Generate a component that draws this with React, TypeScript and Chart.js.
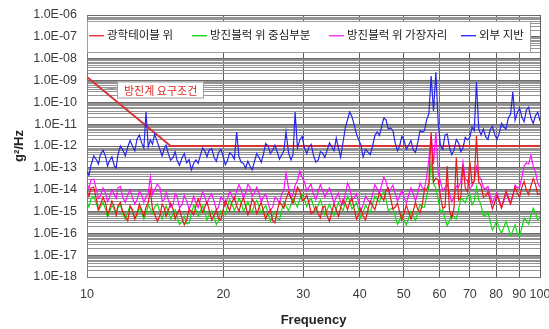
import { useEffect, useRef } from 'react';
import { Chart, registerables } from 'chart.js';

Chart.register(...registerables);

// Frequency (Hz), main log-spaced readings
const frequency = [
  10.0, 10.2, 10.5, 10.7, 11.0, 11.2, 11.5, 11.7, 12.0, 12.3,
  12.6, 12.9, 13.2, 13.5, 13.8, 14.1, 14.5, 14.8, 15.1, 15.5,
  15.8, 16.2, 16.6, 17.0, 17.4, 17.8, 18.2, 18.6, 19.1, 19.5,
  20.0, 20.4, 20.9, 21.4, 21.9, 22.4, 22.9, 23.4, 24.0, 24.5,
  25.1, 25.7, 26.3, 26.9, 27.5, 28.2, 28.8, 29.5, 30.2, 30.9,
  31.6, 32.4, 33.1, 33.9, 34.7, 35.5, 36.3, 37.2, 38.0, 38.9,
  39.8, 40.7, 41.7, 42.7, 43.7, 44.7, 45.7, 46.8, 47.9, 49.0,
  50.1, 51.3, 52.5, 53.7, 55.0, 56.2, 57.5, 58.9, 60.3, 61.7,
  63.1, 64.6, 66.1, 67.6, 69.2, 70.8, 72.4, 74.1, 75.9, 77.6,
  79.4, 81.3, 83.2, 85.1, 87.1, 89.1, 91.2, 93.3, 95.5, 97.7,
  100.0,
];

// Frequency (Hz), in-between readings (noise band extremes)
const frequencyMid = [
  10.1, 10.35, 10.6, 10.85, 11.1, 11.35, 11.6, 11.85, 12.15, 12.45,
  12.75, 13.05, 13.35, 13.65, 13.95, 14.3, 14.65, 14.95, 15.3, 15.65,
  16.0, 16.4, 16.8, 17.2, 17.6, 18.0, 18.4, 18.85, 19.3, 19.75,
  20.2, 20.65, 21.15, 21.65, 22.15, 22.65, 23.15, 23.7, 24.25, 24.8,
  25.4, 26.0, 26.6, 27.2, 27.85, 28.5, 29.15, 29.85, 30.55, 31.25,
  32.0, 32.75, 33.5, 34.3, 35.1, 35.9, 36.75, 37.6, 38.45, 39.35,
  40.25, 41.2, 42.2, 43.2, 44.2, 45.2, 46.25, 47.35, 48.45, 49.55,
  50.7, 51.9, 53.1, 54.35, 55.6, 56.85, 58.2, 59.6, 61.0, 62.4,
  63.85, 65.35, 66.85, 68.4, 70.0, 71.6, 73.25, 75.0, 76.75, 78.5,
  80.35, 82.25, 84.15, 86.1, 88.1, 90.15, 92.25, 94.4, 96.6, 98.85,
];

// 광학테이블 위
const opticalTable = [
  9.6e-15, 1.2e-14, 3.4e-15, 2.0e-15, 2.2e-15, 1.2e-15, 1.5e-15, 1.8e-15, 9.4e-16, 3.7e-16,
  1.2e-15, 8.5e-16, 1.2e-15, 1.6e-15, 9.6e-15, 7.7e-16, 6.9e-16, 1.5e-15, 1.05e-15, 1.2e-15,
  7.7e-16, 5.0e-16, 4.1e-16, 1.05e-15, 1.8e-15, 2.0e-15, 1.6e-15, 1.2e-15, 6.9e-16, 5.0e-16,
  1.3e-15, 2.0e-15, 2.7e-15, 1.8e-15, 2.5e-15, 1.8e-15, 1.3e-15, 2.5e-15, 1.6e-15, 1.05e-15,
  8.5e-16, 3.7e-16, 1.05e-15, 2.0e-15, 3.7e-15, 4.2e-15, 5.1e-15, 8.7e-15, 3.7e-15, 2.5e-15,
  9.4e-16, 7.7e-16, 1.5e-15, 6.2e-16, 9.4e-16, 1.2e-15, 1.5e-15, 2.2e-15, 2.7e-15, 1.3e-15,
  7.7e-16, 6.2e-16, 1.2e-15, 1.8e-15, 3.0e-15, 4.6e-15, 8.7e-15, 4.2e-15, 1.6e-15, 9.4e-16,
  8.5e-16, 9.4e-16, 1.05e-15, 1.3e-15, 2.2e-15, 9.6e-15, 4.4e-12, 3.4e-14, 5.1e-15, 1.6e-15,
  1.2e-15, 1.5e-15, 3.4e-15, 1.3e-13, 7.8e-15, 1.8e-14, 2.9e-12, 1.6e-14, 5.1e-15, 3.4e-15,
  2.5e-15, 2.7e-15, 3.7e-15, 4.6e-15, 5.7e-15, 7.0e-15, 1.3e-14, 9.6e-15, 1.5e-14, 1.8e-14,
  7.0e-15,
];
const opticalTableMid = [
  5.0e-15, 1.3e-14, 1.2e-15, 4.5e-15, 7.0e-16, 3.0e-15, 7.0e-16, 2.6e-15, 6.0e-16, 1.8e-15,
  4.5e-16, 2.2e-15, 6.0e-16, 2.5e-15, 1.3e-15, 3.5e-16, 2.2e-15, 6.0e-16, 2.4e-15, 4.5e-16,
  1.3e-15, 2.4e-16, 1.3e-15, 7.0e-16, 3.8e-15, 9.0e-16, 2.8e-15, 4.0e-16, 1.2e-15, 4.0e-16,
  3.2e-15, 1.1e-15, 4.5e-15, 1.0e-15, 4.2e-15, 7.0e-16, 3.8e-15, 8.0e-16, 2.6e-15, 4.5e-16,
  1.2e-15, 3.0e-16, 2.8e-15, 1.4e-15, 7.5e-15, 2.3e-15, 1.3e-14, 3.2e-15, 5.5e-15, 8.0e-16,
  1.7e-15, 5.0e-16, 1.8e-15, 3.5e-16, 2.2e-15, 6.0e-16, 3.6e-15, 1.2e-15, 4.0e-15, 4.5e-16,
  1.3e-15, 4.0e-16, 3.0e-15, 1.2e-15, 7.0e-15, 3.2e-15, 1.2e-14, 1.3e-15, 2.4e-15, 4.0e-16,
  1.9e-15, 4.5e-16, 2.6e-15, 9.0e-16, 1.1e-14, 2.0e-14, 2.2e-14, 2.8e-14, 1.4e-15, 1.2e-13,
  5.0e-16, 3.0e-13, 4.5e-15, 1.2e-14, 2.0e-13, 2.6e-14, 2.2e-14, 4.5e-15, 8.0e-15, 1.3e-15,
  5.5e-15, 1.4e-15, 8.5e-15, 2.4e-15, 1.3e-14, 4.5e-15, 2.4e-14, 6.0e-15, 3.2e-14, 6.0e-15,
];

// 방진블럭 위 중심부분
const blockCenter = [
  2.7e-15, 3.7e-15, 2.2e-15, 1.6e-15, 1.2e-15, 8.5e-16, 1.2e-15, 1.5e-15, 7.7e-16, 9.4e-16,
  1.05e-15, 6.9e-16, 9.4e-16, 7.7e-16, 1.3e-15, 1.6e-15, 9.4e-16, 8.5e-16, 1.05e-15, 7.7e-16,
  5.6e-16, 3.3e-16, 2.7e-16, 8.5e-16, 1.2e-15, 1.05e-15, 9.4e-16, 6.9e-16, 5.0e-16, 3.7e-16,
  8.5e-16, 1.6e-15, 2.2e-15, 2.0e-15, 2.5e-15, 1.6e-15, 1.5e-15, 2.0e-15, 1.6e-15, 1.3e-15,
  8.5e-16, 6.2e-16, 5.0e-16, 1.2e-15, 1.8e-15, 2.0e-15, 2.5e-15, 3.7e-15, 3.4e-15, 3.0e-15,
  1.8e-15, 2.0e-15, 1.8e-15, 1.2e-15, 1.2e-15, 1.3e-15, 1.6e-15, 2.5e-15, 3.4e-15, 1.8e-15,
  1.2e-15, 9.4e-16, 1.3e-15, 2.2e-15, 3.7e-15, 5.7e-15, 3.7e-15, 1.3e-15, 6.2e-16, 4.1e-16,
  4.1e-16, 5.0e-16, 6.2e-16, 8.5e-16, 1.6e-15, 5.1e-15, 1.8e-13, 1.2e-14, 9.4e-16, 4.5e-16,
  3.7e-16, 5.6e-16, 1.2e-15, 3.4e-15, 5.1e-15, 2.0e-15, 1.3e-14, 2.0e-15, 6.9e-16, 3.7e-16,
  2.2e-16, 1.6e-16, 1.9e-16, 1.75e-16, 1.3e-16, 1.0e-16, 1.9e-16, 3.7e-16, 6.9e-16, 8.5e-16,
  5.6e-16,
];
const blockCenterMid = [
  1.6e-15, 5.0e-15, 1.1e-15, 2.6e-15, 5.5e-16, 1.9e-15, 6.5e-16, 2.0e-15, 4.5e-16, 1.8e-15,
  4.5e-16, 1.5e-15, 4.5e-16, 2.0e-15, 8.0e-16, 2.2e-15, 4.5e-16, 1.8e-15, 4.5e-16, 1.2e-15,
  2.5e-16, 6.0e-16, 2.8e-16, 2.0e-15, 6.0e-16, 1.9e-15, 4.0e-16, 1.1e-15, 2.5e-16, 1.1e-15,
  7.0e-16, 3.5e-15, 1.1e-15, 4.0e-15, 1.0e-15, 2.8e-15, 9.0e-16, 3.2e-15, 8.0e-16, 1.9e-15,
  3.5e-16, 1.0e-15, 4.0e-16, 2.8e-15, 1.1e-15, 4.0e-15, 1.6e-15, 6.0e-15, 1.7e-15, 4.0e-15,
  1.0e-15, 3.4e-15, 7.0e-16, 2.2e-15, 6.5e-16, 2.6e-15, 1.1e-15, 5.0e-15, 1.3e-15, 2.6e-15,
  5.0e-16, 2.0e-15, 9.0e-16, 5.0e-15, 2.6e-15, 8.0e-15, 1.1e-15, 1.4e-15, 2.6e-16, 7.5e-16,
  2.4e-16, 1.0e-15, 3.8e-16, 2.2e-15, 1.6e-15, 1.4e-14, 1.8e-14, 3.5e-15, 1.2e-15, 2.2e-16,
  8.5e-16, 4.5e-16, 4.0e-15, 2.5e-15, 6.0e-15, 3.0e-15, 3.5e-15, 6.0e-16, 9.0e-16, 1.4e-16,
  3.8e-16, 1.0e-16, 3.5e-16, 8.0e-17, 2.4e-16, 7.0e-17, 5.0e-16, 2.6e-16, 1.4e-15, 4.0e-16,
];

// 방진블럭 위 가장자리
const blockEdge = [
  2.0e-14, 2.8e-14, 9.6e-15, 5.1e-15, 6.3e-15, 4.2e-15, 5.7e-15, 1.2e-14, 4.2e-15, 5.7e-15,
  4.2e-15, 3.4e-15, 5.7e-15, 4.6e-15, 3.8e-14, 9.6e-15, 1.2e-14, 3.4e-15, 3.7e-15, 2.2e-15,
  5.1e-15, 2.0e-15, 3.0e-15, 2.2e-15, 2.5e-15, 3.7e-15, 4.6e-15, 4.2e-15, 2.7e-15, 1.5e-15,
  3.4e-15, 3.7e-15, 5.1e-15, 8.7e-15, 9.6e-15, 7.0e-15, 1.3e-14, 7.0e-15, 6.3e-15, 4.6e-15,
  2.5e-15, 1.6e-15, 3.7e-15, 6.3e-15, 5.8e-14, 4.2e-15, 1.6e-14, 7.2e-14, 2.3e-14, 1.3e-14,
  6.3e-15, 8.7e-15, 9.6e-15, 7.8e-15, 5.7e-15, 4.6e-15, 2.7e-15, 7.0e-15, 1.2e-14, 4.2e-15,
  2.5e-15, 2.0e-15, 3.4e-15, 6.3e-15, 1.1e-14, 1.6e-14, 2.5e-14, 1.1e-14, 7.0e-15, 5.1e-15,
  4.6e-15, 5.7e-15, 6.3e-15, 7.0e-15, 1.2e-14, 3.8e-14, 3.2e-12, 4.4e-12, 2.3e-14, 1.2e-14,
  7.0e-15, 4.6e-15, 1.3e-14, 1.8e-13, 2.5e-14, 1.5e-14, 1.1e-13, 3.1e-14, 1.1e-14, 5.7e-15,
  4.2e-15, 3.4e-15, 3.0e-15, 3.7e-15, 5.1e-15, 1.2e-14, 3.8e-14, 1.7e-13, 3.8e-13, 6.5e-14,
  1.3e-14,
];
const blockEdgeMid = [
  1.1e-14, 3.0e-14, 4.0e-15, 1.2e-14, 2.8e-15, 1.0e-14, 4.0e-15, 1.4e-14, 2.6e-15, 1.0e-14,
  2.2e-15, 9.0e-15, 2.6e-15, 7.0e-15, 6.0e-15, 1.8e-14, 3.0e-15, 7.5e-15, 1.6e-15, 6.5e-15,
  1.5e-15, 5.5e-15, 1.3e-15, 5.0e-15, 1.5e-15, 8.0e-15, 2.2e-15, 6.5e-15, 1.2e-15, 4.5e-15,
  1.8e-15, 8.5e-15, 3.5e-15, 1.7e-14, 4.0e-15, 1.8e-14, 5.0e-15, 1.3e-14, 2.6e-15, 6.5e-15,
  1.1e-15, 4.5e-15, 2.4e-15, 1.0e-14, 1.2e-14, 6.0e-15, 2.6e-14, 3.5e-14, 9.0e-15, 1.8e-14,
  3.5e-15, 1.7e-14, 4.5e-15, 1.2e-14, 2.4e-15, 7.0e-15, 2.0e-15, 2.0e-14, 3.5e-15, 6.5e-15,
  1.1e-15, 5.0e-15, 2.4e-15, 1.7e-14, 6.5e-15, 3.8e-14, 8.0e-15, 1.6e-14, 3.0e-15, 9.0e-15,
  2.4e-15, 1.2e-14, 3.0e-15, 2.0e-14, 1.1e-14, 2.5e-13, 1.5e-13, 6.0e-14, 9.0e-15, 1.8e-14,
  2.8e-15, 1.5e-14, 2.2e-14, 3.0e-14, 1.1e-14, 2.5e-14, 4.0e-14, 1.2e-14, 1.4e-14, 2.5e-15,
  7.5e-15, 1.6e-15, 7.0e-15, 2.2e-15, 1.6e-14, 1.3e-14, 1.2e-13, 1.5e-13, 1.2e-13, 2.0e-14,
];

// 외부 지반
const outsideGround = [
  6.5e-14, 1.3e-13, 2.3e-13, 3.9e-13, 3.1e-13, 2.0e-13, 1.2e-13, 3.9e-13, 6.5e-13, 9.0e-13,
  1.0e-12, 2.1e-12, 1.4e-12, 3.6e-11, 1.9e-12, 3.5e-12, 6.5e-13, 7.3e-13, 4.8e-13, 3.1e-13,
  2.3e-13, 2.8e-13, 1.7e-13, 8.0e-14, 2.3e-13, 3.9e-13, 5.9e-13, 6.5e-13, 2.8e-13, 4.8e-13,
  3.1e-13, 2.0e-13, 3.9e-13, 4.4e-12, 1.8e-13, 9.8e-14, 1.2e-13, 1.8e-13, 2.8e-13, 3.9e-13,
  1.0e-12, 6.5e-13, 5.3e-13, 3.9e-13, 4.4e-12, 2.3e-13, 3.6e-11, 1.9e-12, 8.1e-13, 9.0e-13,
  3.9e-13, 2.3e-13, 4.8e-13, 6.5e-13, 9.0e-13, 2.3e-12, 3.1e-13, 7.4e-12, 3.6e-11, 9.1e-12,
  1.9e-12, 3.1e-13, 5.3e-13, 1.0e-12, 4.4e-12, 7.4e-12, 1.6e-11, 6.7e-12, 1.4e-12, 1.0e-12,
  1.9e-12, 1.1e-12, 6.5e-13, 1.4e-12, 4.4e-12, 1.6e-11, 1.6e-9, 2.4e-9, 1.0e-12, 3.2e-12,
  9.0e-13, 6.5e-13, 1.4e-12, 8.1e-13, 1.9e-12, 7.4e-12, 8.5e-10, 3.2e-12, 2.6e-12, 5.4e-12,
  3.5e-12, 3.9e-12, 7.4e-12, 1.9e-11, 3.0e-10, 3.3e-11, 2.1e-11, 4.5e-11, 1.9e-11, 2.4e-11,
  1.4e-11,
];
const outsideGroundMid = [
  4.5e-14, 3.5e-13, 1.5e-13, 6.5e-13, 1.2e-13, 3.2e-13, 1.0e-13, 1.0e-12, 3.5e-13, 1.8e-12,
  6.0e-13, 3.2e-12, 8.0e-13, 9.0e-13, 1.2e-12, 1.5e-12, 3.5e-13, 1.1e-12, 2.2e-13, 5.5e-13,
  1.3e-13, 4.5e-13, 2.4e-13, 1.6e-13, 1.6e-13, 8.0e-13, 3.2e-13, 7.5e-13, 2.0e-13, 7.0e-13,
  1.4e-13, 5.0e-13, 2.5e-13, 3.2e-13, 1.6e-13, 2.0e-13, 8.0e-14, 4.5e-13, 1.8e-13, 1.3e-12,
  4.5e-13, 1.1e-12, 2.5e-13, 6.0e-13, 5.0e-13, 4.0e-13, 8.0e-13, 2.8e-12, 4.5e-13, 1.2e-12,
  1.8e-13, 5.5e-13, 3.0e-13, 1.4e-12, 6.0e-13, 8.0e-13, 1.5e-12, 1.6e-11, 2.2e-11, 3.5e-12,
  1.1e-12, 7.0e-13, 4.0e-13, 3.0e-12, 3.0e-12, 1.9e-11, 6.0e-12, 5.0e-12, 6.0e-13, 2.8e-12,
  7.0e-13, 1.8e-12, 5.0e-13, 5.0e-12, 5.0e-12, 3.0e-11, 4.0e-11, 1.2e-11, 7.0e-13, 3.5e-12,
  4.0e-13, 2.0e-12, 5.5e-13, 2.5e-12, 2.5e-12, 5.0e-12, 6.0e-12, 6.0e-12, 2.0e-12, 8.0e-12,
  2.0e-12, 1.1e-11, 6.0e-12, 2.8e-11, 1.5e-11, 5.5e-11, 1.3e-11, 6.0e-11, 1.1e-11, 3.5e-11,
];

// 방진계 요구조건 (requirement line)
const requirementFreq = [10, 15.3, 100];
const requirementValue = [1.45e-9, 1e-12, 1e-12];

const seriesLabels = ['광학테이블 위', '방진블럭 위 중심부분', '방진블럭 위 가장자리', '외부 지반'];
const requirementLabel = '방진계 요구조건';
const xTicks = [10, 20, 30, 40, 50, 60, 70, 80, 90, 100];
const yTickLabels = [
  '1.0E-18', '1.0E-17', '1.0E-16', '1.0E-15', '1.0E-14', '1.0E-13', '1.0E-12',
  '1.0E-11', '1.0E-10', '1.0E-09', '1.0E-08', '1.0E-07', '1.0E-06',
];
const yExponents = [-18, -17, -16, -15, -14, -13, -12, -11, -10, -9, -8, -7, -6];

const seriesColors = ['#e81818', '#10dc10', '#ff10ff', '#2626e6'];
const legendColors = ['#ff3030', '#20d020', '#ff30ff', '#3030ff'];
const legendItemOffsets = [2, 105, 242, 374];
const requirementColor = '#d83434';
const noteAnchorFreq = 11.65;
const noteAnchorValue = 3.7e-10;
const leaderFreq = 10.8;

const isDecade = (v: number) => {
  const e = Math.log10(v);
  return Math.abs(e - Math.round(e)) < 1e-6;
};

const overlayPlugin = {
  id: 'overlay',
  afterDraw(chart: any) {
    const { ctx, chartArea, scales } = chart;
    ctx.save();
    // Legend box inside the plot area
    const bx = chartArea.left;
    const by = chartArea.top + 6;
    const bw = chartArea.right - 9 - bx;
    const bh = 32;
    ctx.fillStyle = '#ffffff';
    ctx.fillRect(bx, by, bw, bh);
    ctx.strokeStyle = '#a0a0a0';
    ctx.lineWidth = 1;
    ctx.strokeRect(bx + 0.5, by + 0.5, bw - 1, bh - 1);
    ctx.font = '11.5px "Noto Sans CJK KR"';
    ctx.textBaseline = 'middle';
    ctx.textAlign = 'left';
    const cy = by + 14;
    seriesLabels.forEach((label, i) => {
      const x = bx + legendItemOffsets[i];
      ctx.fillStyle = legendColors[i];
      ctx.fillRect(x, cy, 15, 1.4);
      ctx.fillStyle = '#1a1a1a';
      ctx.fillText(label, x + 18, cy);
    });

    // Requirement annotation
    ctx.font = '11px "Noto Sans CJK KR"';
    const xs = scales.x;
    const ys = scales.y;
    const ax = Math.round(xs.getPixelForValue(noteAnchorFreq));
    const ay = Math.round(ys.getPixelForValue(noteAnchorValue));
    const tw = ctx.measureText(requirementLabel).width;
    const nw = Math.round(tw + 14);
    const nh = 17;
    const meta = chart.getDatasetMeta(4);
    const p0 = meta.data[0];
    const p1 = meta.data[1];
    const lx = xs.getPixelForValue(leaderFreq);
    const t = (lx - p0.x) / (p1.x - p0.x);
    const ly = p0.y + t * (p1.y - p0.y);
    ctx.strokeStyle = '#8a8a8a';
    ctx.lineWidth = 1;
    ctx.beginPath();
    ctx.moveTo(lx, ly);
    ctx.lineTo(ax, ay - 2);
    ctx.stroke();
    ctx.fillStyle = '#ffffff';
    ctx.fillRect(ax, ay - nh / 2, nw, nh);
    ctx.strokeStyle = '#a0a0a0';
    ctx.strokeRect(ax + 0.5, ay - nh / 2 + 0.5, nw - 1, nh - 1);
    ctx.fillStyle = '#e02424';
    ctx.fillText(requirementLabel, ax + 7, ay + 0.5);
    ctx.restore();
  },
};

export default function App() {
  const canvasRef = useRef<HTMLCanvasElement | null>(null);

  useEffect(() => {
    const canvas = canvasRef.current;
    if (!canvas) return;

    const yTickValues: number[] = [];
    yExponents.forEach((e) => {
      if (e === -6) {
        yTickValues.push(Number(`1e${e}`));
        return;
      }
      for (let m = 1; m <= 9; m++) yTickValues.push(Number(`${m}e${e}`));
    });

    const measured = [
      [opticalTable, opticalTableMid],
      [blockCenter, blockCenterMid],
      [blockEdge, blockEdgeMid],
      [outsideGround, outsideGroundMid],
    ];
    const datasets: any[] = measured.map(([main, mid], i) => ({
      label: seriesLabels[i],
      data: [
        ...frequency.map((f, j) => ({ x: f, y: main[j] })),
        ...frequencyMid.map((f, j) => ({ x: f, y: mid[j] })),
      ].sort((a, b) => a.x - b.x),
      borderColor: seriesColors[i],
      borderWidth: 1.2,
      pointRadius: 0,
      tension: 0,
      fill: false,
    }));
    datasets.push({
      label: requirementLabel,
      data: requirementFreq.map((f, j) => ({ x: f, y: requirementValue[j] })),
      borderColor: requirementColor,
      borderWidth: 2,
      pointRadius: 0,
      tension: 0,
      fill: false,
    });

    const tickFont = { family: '"Liberation Sans", Arial, sans-serif', size: 12.5 };

    const chart = new Chart(canvas, {
      type: 'line',
      data: { datasets },
      plugins: [overlayPlugin],
      options: {
        animation: false,
        responsive: false,
        devicePixelRatio: 1,
        layout: { padding: { left: 0, right: 9, top: 15, bottom: 0 } },
        plugins: {
          legend: { display: false },
          tooltip: { enabled: false },
        },
        scales: {
          x: {
            type: 'logarithmic',
            min: 10,
            max: 100,
            afterBuildTicks: (scale: any) => {
              scale.ticks = xTicks.map((v) => ({ value: v }));
            },
            afterFit: (scale: any) => {
              scale.height = 52;
              scale.paddingLeft = 0;
              scale.paddingRight = 0;
            },
            grid: { color: '#5e5e5e', lineWidth: 1, drawTicks: false },
            border: { display: true, color: '#7a7a7a' },
            ticks: {
              autoSkip: false,
              maxRotation: 0,
              minRotation: 0,
              padding: 10,
              color: '#3a3a3a',
              font: tickFont,
              callback: (value: any) => String(value),
            },
            title: {
              display: true,
              text: 'Frequency',
              color: '#222222',
              font: { family: '"Liberation Sans", Arial, sans-serif', size: 13, weight: 'bold' },
              padding: { top: 0, bottom: 1 },
            },
          },
          y: {
            type: 'logarithmic',
            min: 1e-18,
            max: 1e-6,
            afterBuildTicks: (scale: any) => {
              scale.ticks = yTickValues.map((v) => ({ value: v }));
            },
            afterFit: (scale: any) => {
              scale.width = 87;
              scale.paddingTop = 0;
              scale.paddingBottom = 0;
            },
            grid: {
              drawTicks: false,
              lineWidth: 1,
              color: (ctx: any) => {
                const v = ctx.tick ? ctx.tick.value : 1;
                return isDecade(v) ? '#6a6a6a' : '#939393';
              },
            },
            border: { display: true, color: '#7a7a7a' },
            ticks: {
              autoSkip: false,
              padding: 10,
              color: '#3a3a3a',
              font: tickFont,
              callback: (value: any) => {
                const v = Number(value);
                if (!isDecade(v)) return '';
                const e = Math.round(Math.log10(v));
                return yTickLabels[yExponents.indexOf(e)] ?? '';
              },
            },
            title: {
              display: true,
              text: 'g²/Hz',
              color: '#222222',
              font: { family: '"Liberation Sans", Arial, sans-serif', size: 13, weight: 'bold' },
              padding: { top: 12, bottom: 0 },
            },
          },
        },
      },
    });

    return () => chart.destroy();
  }, []);

  return (
    <div style={{ position: 'fixed', left: 0, top: 0, width: 549, height: 329, background: '#ffffff' }}>
      <canvas ref={canvasRef} width={549} height={329} style={{ display: 'block' }} />
    </div>
  );
}
